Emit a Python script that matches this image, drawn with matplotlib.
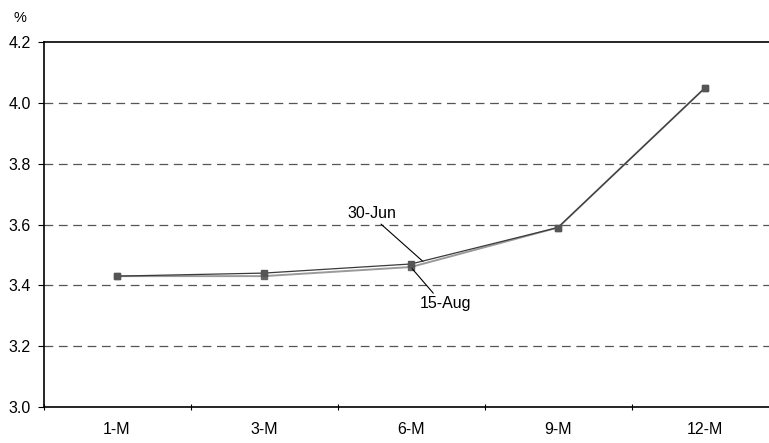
import matplotlib
matplotlib.use("Agg")
import matplotlib.pyplot as plt
import numpy as np

plt.rcParams['font.family'] = ['Liberation Sans', 'DejaVu Sans']

categories = ["1-M", "3-M", "6-M", "9-M", "12-M"]
jun30 = [3.43, 3.44, 3.47, 3.59, 4.05]
aug15 = [3.43, 3.43, 3.46, 3.59, 4.05]
yticks = [3.0, 3.2, 3.4, 3.6, 3.8, 4.0, 4.2]

FS = 11.5
fig = plt.figure(figsize=(7.69, 4.43), dpi=100)
ax = fig.add_axes([43.5 / 769, 36.3 / 443, 735 / 769, 364.4 / 443])
x = np.arange(len(categories))

ax.plot(x, aug15, color="#9a9a9a", lw=1.4, marker="s", ms=4.5,
        mfc="#666666", mec="#666666", zorder=3)
ax.plot(x, jun30, color="#3a3a3a", lw=0.9, marker="s", ms=4.5,
        mfc="#555555", mec="#555555", zorder=4)

ax.set_xlim(-0.5, len(categories) - 0.5)
ax.set_ylim(3.0, 4.2)
ax.set_yticks(yticks)
ax.set_yticklabels([f"{v:.1f}" for v in yticks], fontsize=FS)
for v in yticks[1:-1]:
    ax.axhline(v, color="#555555", lw=0.9, ls=(0, (7, 4.5)), zorder=1)

ax.set_xticks(np.arange(-0.5, len(categories), 1.0))
ax.set_xticklabels([])
ax.set_xticks(x, minor=True)
ax.set_xticklabels(categories, minor=True, fontsize=FS)
ax.tick_params(axis="x", which="minor", length=0, pad=11)
ax.tick_params(axis="x", which="major", length=4, direction="inout", width=0.8)
ax.tick_params(axis="y", length=4, direction="out", width=0.8, pad=5)

for s in ["left", "bottom", "top"]:
    ax.spines[s].set_color("black")
    ax.spines[s].set_linewidth(1.2)
ax.spines["right"].set_visible(False)

ax.annotate("30-Jun", xy=(2.082, 3.478), xytext=(1.735, 3.635),
            ha="center", va="center", fontsize=FS,
            arrowprops=dict(arrowstyle="-", color="black", lw=0.8,
                            shrinkA=0, shrinkB=0,
                            relpos=(0.62, 0.0)))
ax.annotate("15-Aug", xy=(2.007, 3.455), xytext=(2.238, 3.340),
            ha="center", va="center", fontsize=FS,
            arrowprops=dict(arrowstyle="-", color="black", lw=0.8,
                            shrinkA=0, shrinkB=0,
                            relpos=(0.3, 1.0)))

fig.text(20 / 769, 1 - 18 / 443, "%", fontsize=FS - 1, ha="center", va="center")

fig.savefig("out.png", dpi=100)
